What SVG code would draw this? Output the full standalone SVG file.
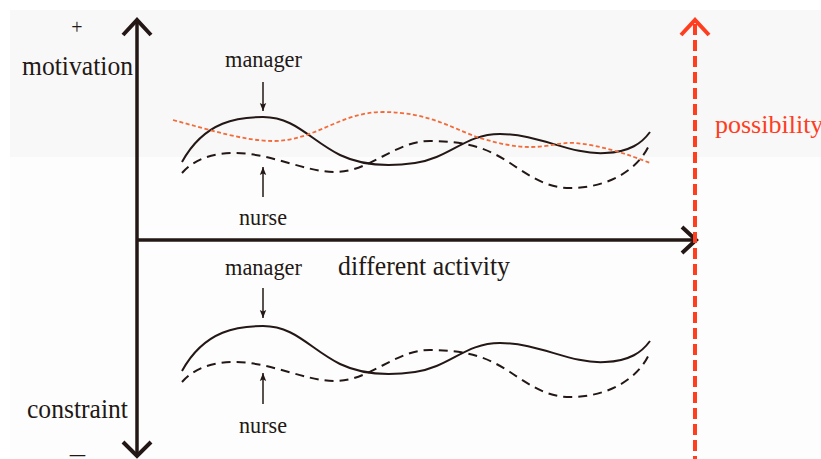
<svg xmlns="http://www.w3.org/2000/svg" width="821" height="459" viewBox="0 0 821 459">
<defs>
<style>
text{font-family:'Liberation Serif','DejaVu Serif','Times New Roman',serif;}
.t{fill:#231815;}
.red{fill:#ff3d1f;}
.axis{stroke:#231815;stroke-width:3.5;fill:none;stroke-linecap:butt;}
.head{stroke:#231815;stroke-width:4;fill:none;}
.man{stroke:#231815;stroke-width:2;fill:none;}
.nur{stroke:#231815;stroke-width:2;fill:none;stroke-dasharray:9 6;}
.pos{stroke:#f26b3a;stroke-width:1.8;fill:none;stroke-dasharray:4 2.5;}
.lbl{stroke:#231815;stroke-width:1.5;fill:none;}
.rdash{stroke:#ff3d1f;stroke-width:4;fill:none;stroke-dasharray:11 5;}
.rhead{stroke:#ff3d1f;stroke-width:4;fill:none;}
</style>
<marker id="ah" viewBox="0 0 10 10" refX="10" refY="5" markerWidth="8" markerHeight="8" markerUnits="userSpaceOnUse" orient="auto">
<path d="M0,1 L10,5 L0,9 L2,5 Z" fill="#231815"/>
</marker>
<path id="cM" d="M182,162 C205,120 240,117 263,117 C295,117 310,140 340,155 C365,167 395,166 415,163 C450,158 465,134 500,134 C540,134 570,155 605,153 C630,152 642,143 650,132"/>
<path id="cN" d="M182,173 C195,158 215,153 235,153 C270,153 305,172 335,172 C370,172 395,141 430,141 C470,141 490,150 510,163 C535,180 550,188 570,188 C610,188 640,168 650,143"/>
</defs>
<rect x="0" y="0" width="821" height="459" fill="#ffffff"/>
<rect x="10" y="10" width="811" height="147" fill="#f8f8f8"/>
<rect x="10" y="157" width="811" height="302" fill="#fdfdfd"/>

<g id="connectors">
<line class="axis" x1="137" y1="21" x2="137" y2="455"/>
<polyline class="head" points="123,35 137,20 151,35"/>
<polyline class="head" points="123,442 137,456 151,442"/>
<line class="axis" x1="137" y1="240" x2="695" y2="240"/>
<polyline class="head" points="682,227 696,240 682,253"/>
<line class="rdash" x1="695" y1="24" x2="695" y2="459"/>
<polyline class="rhead" points="681,35 695,20 709,35"/>
<use href="#cM" class="man"/>
<use href="#cN" class="nur"/>
<path class="pos" d="M173,120 C210,130 245,141 273,141 C315,141 340,112 383,112 C430,112 455,130 480,138 C500,144 515,147 530,147 C550,147 560,142 575,143 C600,145 630,155 650,163"/>
<use href="#cM" class="man" transform="translate(0,209)"/>
<use href="#cN" class="nur" transform="translate(0,209)"/>
<line class="lbl" x1="263" y1="82" x2="263" y2="111" marker-end="url(#ah)"/>
<line class="lbl" x1="263" y1="197" x2="263" y2="167" marker-end="url(#ah)"/>
<line class="lbl" x1="263" y1="288" x2="263" y2="318" marker-end="url(#ah)"/>
<line class="lbl" x1="263" y1="404" x2="263" y2="373" marker-end="url(#ah)"/>
</g>

<g id="labels">
<text class="t" x="77" y="34" font-size="20" text-anchor="middle">+</text>
<text class="t" x="22" y="75" font-size="27" textLength="111" lengthAdjust="spacingAndGlyphs">motivation</text>
<text class="t" x="27" y="418" font-size="27" textLength="101" lengthAdjust="spacingAndGlyphs">constraint</text>
<text class="t" x="68" y="463" font-size="22" textLength="19" lengthAdjust="spacingAndGlyphs">−</text>
<text class="t" x="338" y="275" font-size="27" textLength="172" lengthAdjust="spacingAndGlyphs">different activity</text>
<text class="t red" x="715" y="133" font-size="26">possibility</text>
</g>

<g id="node-manager-top"><text class="t" x="225" y="67" font-size="23" textLength="77" lengthAdjust="spacingAndGlyphs">manager</text></g>
<g id="node-nurse-top"><text class="t" x="239" y="225" font-size="23" textLength="48" lengthAdjust="spacingAndGlyphs">nurse</text></g>
<g id="node-manager-bottom"><text class="t" x="225" y="275" font-size="23" textLength="77" lengthAdjust="spacingAndGlyphs">manager</text></g>
<g id="node-nurse-bottom"><text class="t" x="239" y="433" font-size="23" textLength="48" lengthAdjust="spacingAndGlyphs">nurse</text></g>
</svg>
